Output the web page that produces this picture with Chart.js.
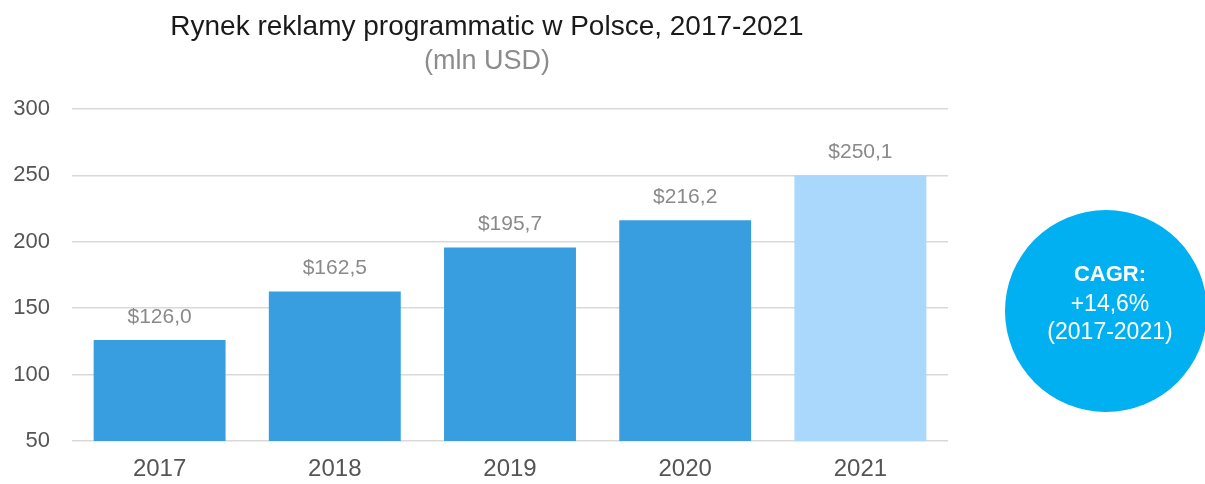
<!DOCTYPE html>
<html>
<head>
<meta charset="utf-8">
<script src="https://cdn.jsdelivr.net/npm/chart.js@4/dist/chart.umd.min.js"></script>
<style>
  html, body { margin: 0; padding: 0; background: #ffffff; }
  #wrap { width: 1205px; height: 484px; position: relative; }
</style>
</head>
<body>
<div id="wrap"><canvas id="c"></canvas></div>
<script>
// Programmatic ad market in Poland, mln USD
const years = ['2017', '2018', '2019', '2020', '2021'];
const values = [126.0, 162.5, 195.7, 216.2, 250.1];
const barColors = ['#399ee0', '#399ee0', '#399ee0', '#399ee0', '#a9d8fc'];
const yTicks = [50, 100, 150, 200, 250, 300];

const titleText = 'Rynek reklamy programmatic w Polsce, 2017-2021';
const subtitleText = '(mln USD)';
const cagrLines = ['CAGR:', '+14,6%', '(2017-2021)'];

const FONT = '"Liberation Sans", Arimo, Helvetica, Arial, sans-serif';

const fmtValue = v => '$' + v.toFixed(1).replace('.', ',');

// Title, value labels above bars and the CAGR badge
const decorations = {
  id: 'decorations',
  afterDatasetsDraw(chart) {
    const ctx = chart.ctx;
    const area = chart.chartArea;
    ctx.save();

    // title + subtitle
    ctx.textAlign = 'center';
    ctx.textBaseline = 'middle';
    ctx.fillStyle = '#1a1a1a';
    ctx.font = '28px ' + FONT;
    ctx.fillText(titleText, 487, 27);
    ctx.fillStyle = '#8c8c8c';
    ctx.font = '27px ' + FONT;
    ctx.fillText(subtitleText, 487, 62);

    // value labels
    const meta = chart.getDatasetMeta(0);
    ctx.font = '21px ' + FONT;
    ctx.fillStyle = '#8a8a8a';
    meta.data.forEach((bar, i) => {
      ctx.fillText(fmtValue(values[i]), bar.x, bar.y - 23);
    });

    // CAGR badge
    const cx = area.right + 158, cy = (area.top + area.bottom) / 2 + 36;
    ctx.beginPath();
    ctx.arc(cx, cy, 101, 0, Math.PI * 2);
    ctx.fillStyle = '#00b0f0';
    ctx.fill();
    ctx.fillStyle = '#ffffff';
    ctx.font = 'bold 22px ' + FONT;
    ctx.fillText(cagrLines[0], cx + 4, cy - 36);
    ctx.font = '23px ' + FONT;
    ctx.fillText(cagrLines[1], cx + 4, cy - 6);
    ctx.fillText(cagrLines[2], cx + 4, cy + 22);
    ctx.restore();
  }
};

new Chart(document.getElementById('c'), {
  type: 'bar',
  data: {
    labels: years,
    datasets: [{
      data: values,
      backgroundColor: barColors,
      borderWidth: 0,
      barPercentage: 0.753,
      categoryPercentage: 1.0
    }]
  },
  options: {
    responsive: true,
    maintainAspectRatio: false,
    animation: false,
    layout: { padding: { top: 109, right: 257, bottom: 4, left: 0 } },
    plugins: {
      legend: { display: false },
      title: { display: false },
      tooltip: { enabled: false }
    },
    scales: {
      x: {
        afterFit(scale) { scale.height = 39; },
        grid: { display: false, drawTicks: false },
        border: { display: false },
        ticks: {
          color: '#555555',
          font: { family: FONT, size: 24 },
          padding: 14
        }
      },
      y: {
        min: 50,
        max: 300,
        afterBuildTicks(scale) { scale.ticks = yTicks.map(v => ({ value: v })); },
        afterFit(scale) { scale.width = 72; },
        grid: { color: '#d9d9d9', lineWidth: 1.5, drawTicks: false },
        border: { display: false },
        ticks: {
          color: '#555555',
          font: { family: FONT, size: 22 },
          padding: 22
        }
      }
    }
  },
  plugins: [decorations]
});
</script>
</body>
</html>
